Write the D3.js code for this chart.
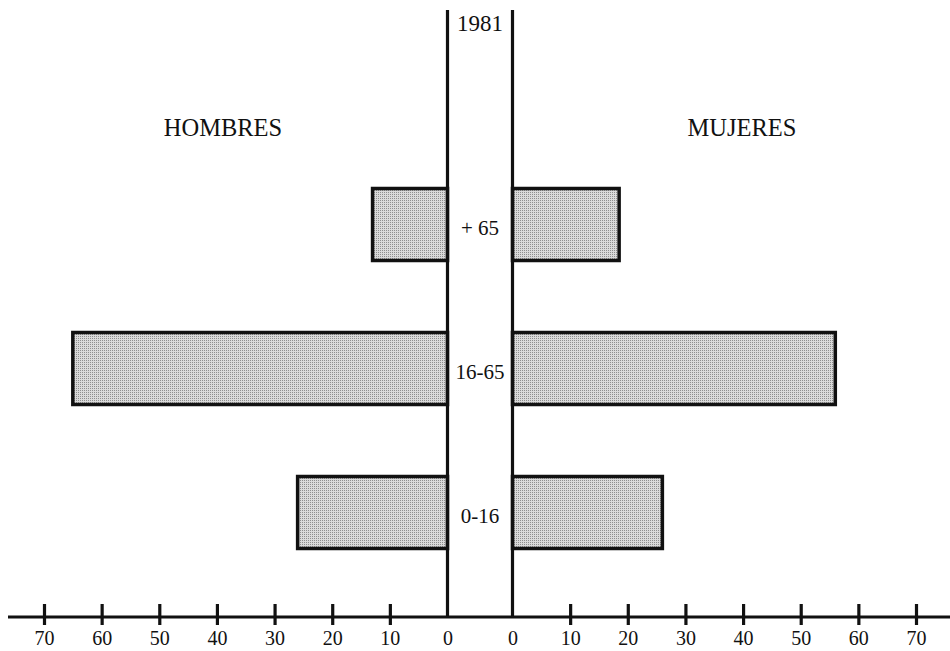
<!DOCTYPE html>
<html>
<head>
<meta charset="utf-8">
<script src="https://cdn.jsdelivr.net/npm/d3@7"></script>
<style>
  html, body { margin: 0; padding: 0; background: #fff; }
  svg { display: block; }
  text { font-family: "Liberation Serif", "Times New Roman", serif; fill: #111; }
</style>
</head>
<body>
<svg id="chart" width="950" height="651"></svg>
<script>
// ---- data ----
const year = "1981";
const categories = ["+ 65", "16-65", "0-16"];
const hombres = [13, 65, 26];
const mujeres = [18.5, 56, 26];
const tickValues = [0, 10, 20, 30, 40, 50, 60, 70];
const leftTitle = "HOMBRES";
const rightTitle = "MUJERES";

// ---- layout ----
const svg = d3.select("#chart");
const W = 950, H = 651;
const axisY = 617;
const xLeft = d3.scaleLinear().domain([0, 70]).range([447.5, 44]);
const xRight = d3.scaleLinear().domain([0, 70]).range([512.5, 916]);
const y = d3.scaleBand().domain(categories).range([152.5, 584.5]).paddingInner(0.5).paddingOuter(0.25);
const midX = (xLeft(0) + xRight(0)) / 2;

// stipple pattern
const defs = svg.append("defs");
const pat = defs.append("pattern").attr("id", "stipple").attr("patternUnits", "userSpaceOnUse")
  .attr("width", 2).attr("height", 2);
pat.append("rect").attr("width", 2).attr("height", 2).attr("fill", "#dadada");
pat.append("rect").attr("width", 1).attr("height", 1).attr("fill", "#8e8e8e");

// bars
const data = categories.map((c, i) => ({ c, h: hombres[i], m: mujeres[i] }));
svg.append("g").selectAll("rect").data(data).join("rect")
  .attr("x", d => xLeft(d.h)).attr("y", d => y(d.c))
  .attr("width", d => xLeft(0) - xLeft(d.h)).attr("height", y.bandwidth())
  .attr("fill", "url(#stipple)").attr("stroke", "#111").attr("stroke-width", 3.5);
svg.append("g").selectAll("rect").data(data).join("rect")
  .attr("x", xRight(0)).attr("y", d => y(d.c))
  .attr("width", d => xRight(d.m) - xRight(0)).attr("height", y.bandwidth())
  .attr("fill", "url(#stipple)").attr("stroke", "#111").attr("stroke-width", 3.5);

// central vertical lines
[xLeft(0), xRight(0)].forEach(xv => {
  svg.append("line").attr("x1", xv).attr("x2", xv).attr("y1", 10).attr("y2", axisY)
    .attr("stroke", "#111").attr("stroke-width", 3.2);
});

// axis base line
svg.append("line").attr("x1", 8).attr("x2", W).attr("y1", axisY).attr("y2", axisY)
  .attr("stroke", "#111").attr("stroke-width", 3.2);

function styleAxis(g) {
  g.attr("font-family", null).attr("font-size", null);
  g.select(".domain").remove();
  g.selectAll(".tick line")
    .attr("y1", -13).attr("y2", 8)
    .attr("stroke", "#111").attr("stroke-width", 3.2)
    .attr("display", d => d === 0 ? "none" : null);
  g.selectAll(".tick text")
    .attr("y", 28).attr("dy", 0)
    .style("font-family", "'Liberation Serif', 'Times New Roman', serif")
    .style("font-size", "20px").attr("fill", "#111");
}
svg.append("g").attr("transform", `translate(0,${axisY})`)
  .call(d3.axisBottom(xLeft).tickValues(tickValues).tickFormat(d3.format("d")).tickSize(0))
  .call(styleAxis);
svg.append("g").attr("transform", `translate(0,${axisY})`)
  .call(d3.axisBottom(xRight).tickValues(tickValues).tickFormat(d3.format("d")).tickSize(0))
  .call(styleAxis);

// category labels
svg.append("g").selectAll("text").data(categories).join("text")
  .attr("x", midX).attr("y", d => y(d) + y.bandwidth() / 2 + 10)
  .attr("text-anchor", "middle").attr("font-size", 21).text(d => d);

// year
svg.append("text").attr("x", midX).attr("y", 31).attr("text-anchor", "middle")
  .attr("font-size", 23).text(year);

// side titles
svg.append("text").attr("x", 223).attr("y", 136).attr("text-anchor", "middle")
  .attr("font-size", 24.5).text(leftTitle);
svg.append("text").attr("x", 742).attr("y", 136).attr("text-anchor", "middle")
  .attr("font-size", 24.5).text(rightTitle);
</script>
</body>
</html>
